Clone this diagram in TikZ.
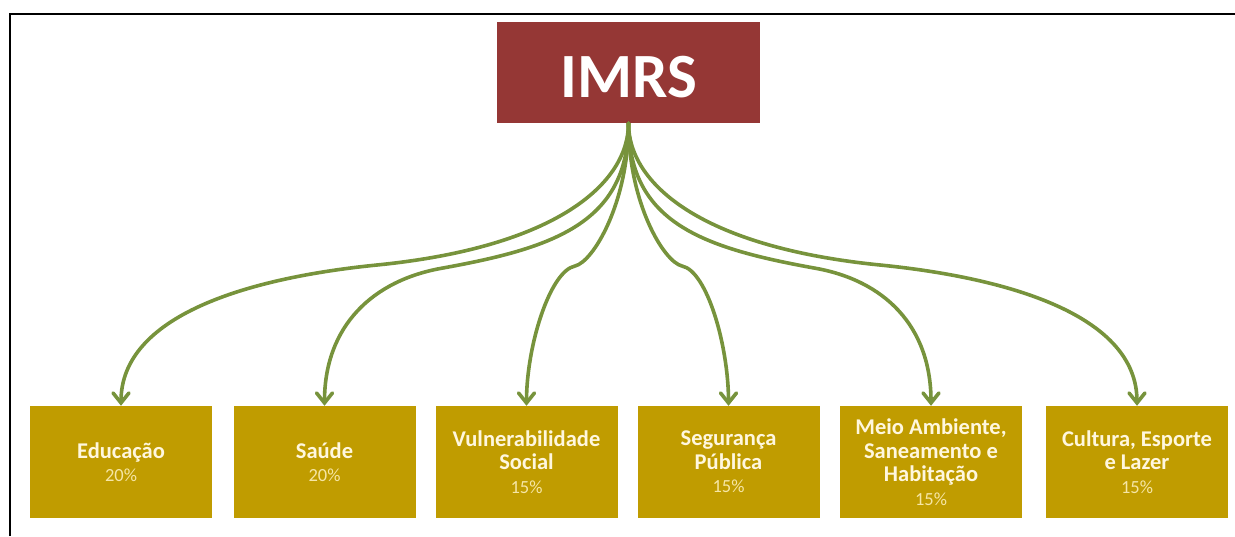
\documentclass[tikz,border=0pt]{standalone}
\usepackage{fontspec}
\setmainfont{Carlito}
\usetikzlibrary{arrows.meta}
\definecolor{imrsred}{HTML}{953735}
\definecolor{gold}{HTML}{C09C00}
\definecolor{conngreen}{HTML}{77933C}
\definecolor{cream}{HTML}{FFF7DE}
\definecolor{pale}{HTML}{F6E6A6}
\newcommand{\pctline}[1]{{\mdseries\fontsize{18.5}{24}\selectfont\color{pale}#1}}
\begin{document}
\begin{tikzpicture}[x=1pt,y=-1pt,
  topbox/.style={rectangle, fill=imrsred, minimum width=263pt, minimum height=101pt,
    inner sep=0pt, text=white, font=\fontsize{63}{63}\selectfont\bfseries},
  subbox/.style={rectangle, fill=gold, minimum width=182pt, minimum height=112pt,
    inner sep=0pt, align=center, text=cream, font=\fontsize{22.5}{23.5}\selectfont\bfseries},
  conn/.style={draw=conngreen, line width=3.6pt, line cap=round,
    -{Straight Barb[length=10pt,width=16pt,line cap=round]}},
  frameline/.style={draw=black, line width=2.4pt}
]
\useasboundingbox (0,0) rectangle (1235,536);
\draw[frameline] (10,536) -- (10,14) -- (1235,14);

\node[topbox] (imrs) at (628.5,72.5) {\raisebox{-4pt}[\height][0pt]{IMRS}};

\node[subbox] (edu)  at (121,462)   {Educação\\\pctline{20\%}};
\node[subbox] (sau)  at (324.5,462) {Saúde\\\pctline{20\%}};
\node[subbox] (vul)  at (526.5,462) {Vulnerabilidade\\Social\\\pctline{15\%}};
\node[subbox] (seg)  at (728.5,462) {Segurança\\Pública\\\pctline{15\%}};
\node[subbox] (mei)  at (931,462)   {Meio Ambiente,\\Saneamento e\\Habitação\\\pctline{15\%}};
\node[subbox] (cul)  at (1137,462)  {Cultura, Esporte\\e Lazer\\\pctline{15\%}};

\coordinate (eduM) at (377,265);
\coordinate (sauM) at (443,268);
\coordinate (vulM) at (575,266);
\coordinate (segM) at (682,266);
\coordinate (meiM) at (814,268);
\coordinate (culM) at (880,265);

\draw[conn] (imrs.south) .. controls +(0,60) and +(180,-18) .. (eduM)
  .. controls +(-130,13) and +(0,-90) .. (edu.north);
\draw[conn] (imrs.south) .. controls +(0,100) and +(110,-20) .. (sauM)
  .. controls +(-70,12) and +(0,-80) .. (sau.north);
\draw[conn] (imrs.south) .. controls +(0,80) and +(18,-4) .. (vulM)
  .. controls +(-25,5) and +(0,-60) .. (vul.north);
\draw[conn] (imrs.south) .. controls +(0,80) and +(-18,-4) .. (segM)
  .. controls +(25,5) and +(0,-60) .. (seg.north);
\draw[conn] (imrs.south) .. controls +(0,100) and +(-110,-20) .. (meiM)
  .. controls +(70,12) and +(0,-80) .. (mei.north);
\draw[conn] (imrs.south) .. controls +(0,60) and +(-180,-18) .. (culM)
  .. controls +(130,13) and +(0,-90) .. (cul.north);
\end{tikzpicture}
\end{document}
